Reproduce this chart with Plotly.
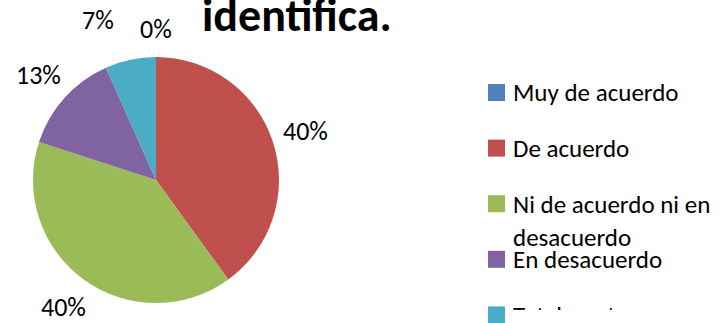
import math
import plotly.graph_objects as go

# Survey answers (counts of respondents per option)
labels = [
    "Muy de acuerdo",
    "De acuerdo",
    "Ni de acuerdo ni en desacuerdo",
    "En desacuerdo",
    "Totalmente en desacuerdo",
]
legend_text = [
    "Muy de acuerdo",
    "De acuerdo",
    "Ni de acuerdo ni en<br>desacuerdo",
    "En desacuerdo",
    "Totalmente en<br>desacuerdo",
]
counts = [0, 6, 6, 2, 1]
colors = ["#4F81BD", "#C0504D", "#9BBB59", "#8064A2", "#4BACC6"]
title_text = "identifica."

W, H = 722, 323
FONT = "Carlito, Calibri, Lato, sans-serif"

# pie geometry in pixels
CX, CY, R = 156, 180, 123

fig = go.Figure()
fig.add_trace(go.Pie(
    labels=labels,
    values=counts,
    sort=False,
    direction="clockwise",
    rotation=0,
    marker=dict(colors=colors, line=dict(width=0)),
    textinfo="none",
    showlegend=False,
    domain=dict(x=[(CX - R) / W, (CX + R) / W], y=[1 - (CY + R) / H, 1 - (CY - R) / H]),
    hoverinfo="label+percent",
))

shapes = []
annotations = []

# Percentage labels outside each slice, along the slice's mid angle
total = sum(counts)
label_dist = 1.28 * R
pct_size = 26
pct_pos = []
cum = 0
for c in counts:
    frac = c / total
    mid = (cum + frac / 2) * 2 * math.pi
    cum += frac
    px = CX + label_dist * math.sin(mid)
    py = CY - label_dist * math.cos(mid)
    pct_pos.append([px, py, f"{round(100 * frac)}%"])

# keep neighbouring labels near the top from overlapping
min_gap = 58
for i in range(len(pct_pos) - 1, 0, -1):
    a, b = pct_pos[i], pct_pos[(i + 1) % len(pct_pos)]
    if abs(a[1] - b[1]) < 25 and b[0] - a[0] < min_gap:
        a[0] = b[0] - min_gap
        a[1] -= 6
        b[1] += 6

for px, py, txt in pct_pos:
    annotations.append(dict(
        x=px / W, y=1 - py / H, xref="paper", yref="paper",
        xanchor="center", yanchor="middle", showarrow=False,
        text=txt, font=dict(family=FONT, size=pct_size, color="#000000"),
    ))

# Legend on the right: square swatch + label per option
leg_x0, leg_sq = 488, 17
leg_top, leg_step = 92.5, 55.6
for i, (txt, col) in enumerate(zip(legend_text, colors)):
    cy = leg_top + i * leg_step
    shapes.append(dict(
        type="rect", xref="paper", yref="paper",
        x0=leg_x0 / W, x1=(leg_x0 + leg_sq) / W,
        y0=1 - (cy + leg_sq / 2) / H, y1=1 - (cy - leg_sq / 2) / H,
        fillcolor=col, line=dict(width=0),
    ))
    ann = dict(
        x=512 / W, y=1 - (cy - 16) / H, xref="paper", yref="paper",
        xanchor="left", yanchor="top", align="left", showarrow=False,
        text=txt, font=dict(family=FONT, size=25, color="#000000"),
        borderpad=0,
    )
    if i == len(legend_text) - 1:
        ann.update(height=10, valign="top")
    annotations.append(ann)

annotations.append(dict(
    x=297 / W, y=1 + 14 / H, xref="paper", yref="paper",
    xanchor="center", yanchor="top", showarrow=False,
    text="<b>" + title_text + "</b>",
    font=dict(family=FONT, size=46, color="#000000"), borderpad=0,
))

fig.update_layout(
    width=W, height=H,
    margin=dict(l=0, r=0, t=0, b=0),
    paper_bgcolor="#FFFFFF", plot_bgcolor="#FFFFFF",
    shapes=shapes, annotations=annotations,
)

fig.write_html("out.html")
